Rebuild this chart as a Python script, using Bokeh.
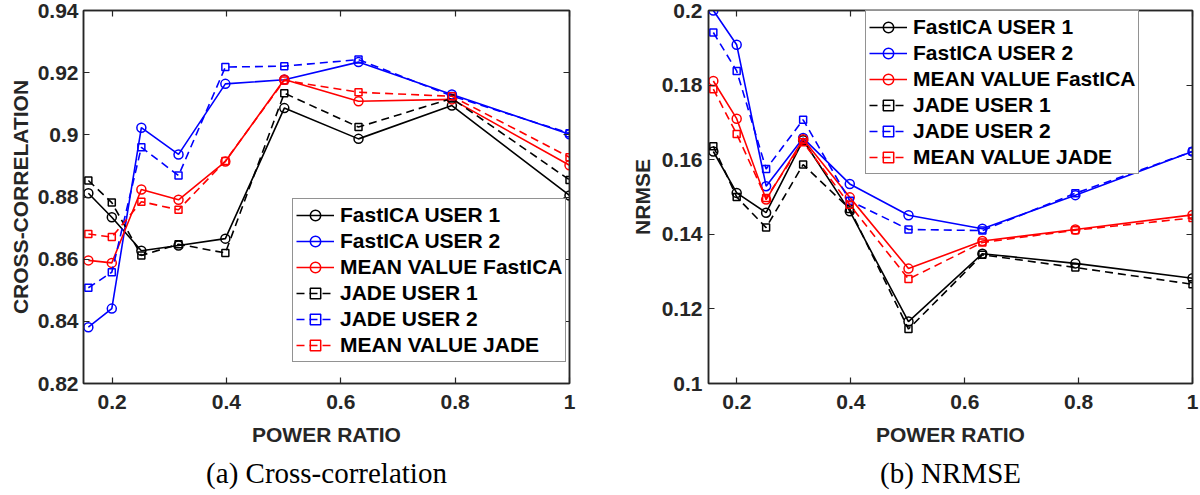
from bokeh.plotting import figure
from bokeh.models import LinearAxis, FixedTicker, Legend, LegendItem, Title, Range1d
from bokeh.layouts import row
from bokeh.embed import file_html
from bokeh.resources import INLINE

# ---------------- data ----------------
power_ratio = [0.1585, 0.1995, 0.2512, 0.3162, 0.3981, 0.5012, 0.6310, 0.7943, 1.0]

cc_fastica_user1 = [0.8812, 0.8735, 0.8627, 0.8644, 0.8666, 0.9086, 0.8987, 0.9094, 0.8805]
cc_fastica_user2 = [0.8381, 0.8441, 0.9023, 0.8937, 0.9164, 0.9177, 0.9234, 0.9130, 0.9002]
cc_fastica_mean = [0.8596, 0.8588, 0.8824, 0.8791, 0.8914, 0.9178, 0.9108, 0.9114, 0.8902]
cc_jade_user1 = [0.8853, 0.8782, 0.8612, 0.8648, 0.8620, 0.9134, 0.9025, 0.9117, 0.8855]
cc_jade_user2 = [0.8508, 0.8558, 0.8960, 0.8869, 0.9218, 0.9221, 0.9242, 0.9125, 0.9005]
cc_jade_mean = [0.8681, 0.8671, 0.8785, 0.8759, 0.8916, 0.9175, 0.9137, 0.9124, 0.8928]

nr_fastica_user1 = [0.1622, 0.1511, 0.1458, 0.1652, 0.1462, 0.1166, 0.1348, 0.1322, 0.1282]
nr_fastica_user2 = [0.2000, 0.1908, 0.1529, 0.1658, 0.1535, 0.1451, 0.1415, 0.1505, 0.1622]
nr_fastica_mean = [0.1811, 0.1710, 0.1493, 0.1655, 0.1499, 0.1308, 0.1382, 0.1413, 0.1452]
nr_jade_user1 = [0.1636, 0.1500, 0.1418, 0.1587, 0.1468, 0.1146, 0.1345, 0.1311, 0.1266]
nr_jade_user2 = [0.1941, 0.1838, 0.1575, 0.1707, 0.1490, 0.1413, 0.1410, 0.1510, 0.1622]
nr_jade_mean = [0.1789, 0.1669, 0.1497, 0.1647, 0.1479, 0.1280, 0.1378, 0.1411, 0.1444]

series_names = ["FastICA USER 1", "FastICA USER 2", "MEAN VALUE FastICA",
                "JADE USER 1", "JADE USER 2", "MEAN VALUE JADE"]

x_ticks = [0.2, 0.4, 0.6, 0.8, 1.0]
x_tick_labels = ["0.2", "0.4", "0.6", "0.8", "1"]
cc_ticks = [0.82, 0.84, 0.86, 0.88, 0.90, 0.92, 0.94]
cc_tick_labels = ["0.82", "0.84", "0.86", "0.88", "0.9", "0.92", "0.94"]
nr_ticks = [0.10, 0.12, 0.14, 0.16, 0.18, 0.20]
nr_tick_labels = ["0.1", "0.12", "0.14", "0.16", "0.18", "0.2"]

# ---------------- styles ----------------
COLORS = ["#000000", "#0000FF", "#FF0000", "#000000", "#0000FF", "#FF0000"]
DASHES = ["solid", "solid", "solid", "8 5", "8 5", "8 5"]
MARKERS = ["circle", "circle", "circle", "square", "square", "square"]
MSIZE = [9, 9, 9, 7, 7, 7]
AX = "#262626"
FONT = "Liberation Sans"


def style_axis(ax, ticks, labels, show_labels=True):
    ax.ticker = FixedTicker(ticks=ticks)
    ax.major_tick_in = 6
    ax.major_tick_out = 0
    ax.minor_tick_line_color = None
    ax.major_tick_line_color = AX
    ax.major_tick_line_width = 1.2
    ax.axis_line_color = AX
    ax.axis_line_width = 1.5
    if show_labels:
        ax.major_label_overrides = {t: l for t, l in zip(ticks, labels)}
        ax.major_label_text_font = FONT
        ax.major_label_text_font_style = "bold"
        ax.major_label_text_font_size = "21px"
        ax.major_label_text_color = AX
        ax.axis_label_text_font = FONT
        ax.axis_label_text_font_style = "bold"
        ax.axis_label_text_font_size = "21px"
        ax.axis_label_text_color = AX
    else:
        ax.major_label_overrides = {t: "" for t in ticks}
        ax.major_label_text_font_size = "1px"
        ax.major_label_text_color = None
        ax.major_label_standoff = 0


def make_fig(ys, y_rng, y_ticks, y_labels, y_title, borders, leg_loc, caption,
             ylab_standoff, ytick_standoff):
    bl, br, bt, bb = borders
    p = figure(width=600, height=495, output_backend="svg", toolbar_location=None,
               x_range=Range1d(0.15, 1.0), y_range=Range1d(*y_rng),
               min_border_left=bl, min_border_right=br, min_border_top=bt,
               min_border_bottom=bb)
    p.grid.visible = False
    p.outline_line_color = AX
    p.outline_line_width = 1.5
    p.background_fill_color = "white"
    p.border_fill_color = "white"

    style_axis(p.xaxis[0], x_ticks, x_tick_labels)
    style_axis(p.yaxis[0], y_ticks, y_labels)
    p.xaxis[0].axis_label = "POWER RATIO"
    p.yaxis[0].axis_label = y_title
    p.xaxis[0].major_label_standoff = 11
    p.xaxis[0].axis_label_standoff = 11
    p.yaxis[0].major_label_standoff = ytick_standoff
    p.yaxis[0].axis_label_standoff = ylab_standoff

    top = LinearAxis()
    style_axis(top, x_ticks, x_tick_labels, show_labels=False)
    p.add_layout(top, "above")
    right = LinearAxis()
    style_axis(right, y_ticks, y_labels, show_labels=False)
    p.add_layout(right, "right")

    items = []
    for i, yv in enumerate(ys):
        ln = p.line(power_ratio, yv, line_color=COLORS[i], line_width=1.6,
                    line_dash=DASHES[i])
        sc = p.scatter(power_ratio, yv, marker=MARKERS[i], size=MSIZE[i],
                       line_color=COLORS[i], line_width=1.5, fill_color=None)
        items.append(LegendItem(label=series_names[i], renderers=[ln, sc]))

    legend = Legend(items=items, location=leg_loc, glyph_width=38, glyph_height=26,
                    label_height=26, spacing=0, padding=3, label_standoff=6,
                    margin=0, border_line_color=AX, border_line_width=1.3,
                    label_text_font=FONT, label_text_font_style="bold",
                    label_text_font_size="21px", label_text_color="black",
                    background_fill_color="white", background_fill_alpha=1.0)
    p.add_layout(legend)

    cap = Title(text=caption, align="center", text_font="Liberation Serif",
                text_font_size="29px", text_font_style="normal",
                text_color="black", standoff=12)
    p.add_layout(cap, "below")
    return p


p1 = make_fig([cc_fastica_user1, cc_fastica_user2, cc_fastica_mean,
               cc_jade_user1, cc_jade_user2, cc_jade_mean],
              (0.82, 0.94), cc_ticks, cc_tick_labels, "CROSS-CORRELATION",
              (83, 31, 10, 112), (209, 21), "(a) Cross-correlation", 3, 5)

p2 = make_fig([nr_fastica_user1, nr_fastica_user2, nr_fastica_mean,
               nr_jade_user1, nr_jade_user2, nr_jade_mean],
              (0.10, 0.20), nr_ticks, nr_tick_labels, "NRMSE",
              (108, 8, 10, 110), (157, 209), "(b) NRMSE", 5, 6)

layout = row(p1, p2)
open("out.html", "w").write(file_html(layout, INLINE))
